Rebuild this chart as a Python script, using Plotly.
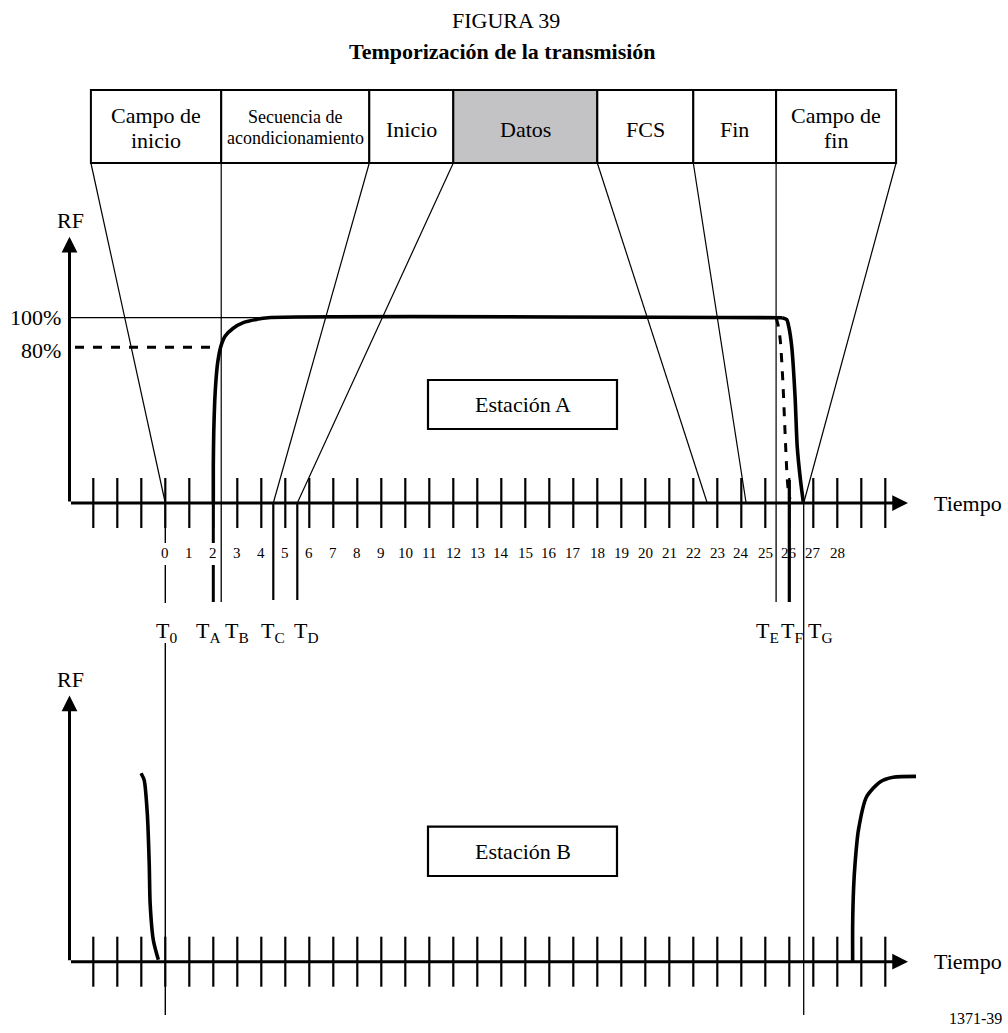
import plotly.graph_objects as go

W, H = 1008, 1033

# --- data -------------------------------------------------------------
# time in tick units, RF level as fraction of 100 %
tick_times = list(range(-3, 31))
tick_labels = list(range(0, 29))

field_names = [["Campo de", "inicio"], ["Secuencia de", "acondicionamiento"],
               ["Inicio"], ["Datos"], ["FCS"], ["Fin"], ["Campo de", "fin"]]
field_edges = [-3.1, 2.33, 8.5, 12.0, 18.0, 22.0, 25.45, 30.45]
edge_targets = [0.0, 2.33, 4.5, 5.5, 22.58, 24.2, 25.45, 26.6]

t_names = ["0", "A", "B", "C", "D", "E", "F", "G"]
t_times = [0.0, 2.0, 2.33, 4.5, 5.5, 25.45, 26.0, 26.6]

level_full = 1.0
level_80 = 0.84

a_rise_t = [2.0, 2.0, 2.02, 2.06, 2.11, 2.18, 2.31, 2.49, 2.83, 3.25, 3.81, 4.29]
a_rise_rf = [0.0, 0.2, 0.39, 0.55, 0.66, 0.755, 0.843, 0.9, 0.943, 0.973, 0.991, 1.0]
a_fall_t = [25.7, 25.89, 25.98, 26.1, 26.24, 26.33, 26.45, 26.58]
a_fall_rf = [1.0, 0.99, 0.95, 0.845, 0.574, 0.304, 0.142, 0.007]
a_fall2_t = [25.45, 25.55, 25.63, 25.73, 25.82, 25.92, 26.0, 26.05]
a_fall2_rf = [1.0, 0.95, 0.87, 0.66, 0.39, 0.12, 0.03, 0.02]

b_fall_t = [-1.01, -0.88, -0.75, -0.67, -0.63, -0.5, -0.29]
b_fall_rf = [1.017, 0.98, 0.80, 0.53, 0.31, 0.117, 0.01]
b_rise_t = [28.64, 28.64, 28.68, 28.74, 28.88, 29.22, 29.78, 30.33, 31.28]
b_rise_rf = [0.0, 0.2, 0.4, 0.53, 0.71, 0.89, 0.97, 0.995, 1.0]

# --- page geometry (pixels -> axis units) -----------------------------
X0, DX = 165.3, 24.0      # pixel of t=0, pixels per tick
Y0, DY = 503.0, 185.3     # pixel of station A baseline, pixels per 100 %
B0 = -(961.7 - Y0) / DY   # station B baseline


def px(x):
    return (x - X0) / DX


def py(y):
    return (Y0 - y) / DY


FONT = "Liberation Serif"
fig = go.Figure()


def line(xs, ys, width=1.2, dash="solid", shape="linear"):
    fig.add_trace(go.Scatter(x=xs, y=ys, mode="lines", hoverinfo="skip",
                             line=dict(color="black", width=width, dash=dash,
                                       shape=shape, smoothing=0.7)))


def text(x, y, s, size=22, **kw):
    fig.add_annotation(x=x, y=y, text=s, showarrow=False,
                       font=dict(family=FONT, size=size, color="black"), **kw)


# field boxes on top
box_top, box_bot = py(90), py(163)
for i, name in enumerate(field_names):
    fig.add_shape(type="rect", x0=field_edges[i], x1=field_edges[i + 1],
                  y0=box_bot, y1=box_top, line=dict(color="black", width=2),
                  fillcolor="#c3c3c5" if name == ["Datos"] else "white", layer="below")
    xc = (field_edges[i] + field_edges[i + 1]) / 2
    if len(name) == 1:
        text(xc, py(129), name[0])
    else:
        small = name[0].startswith("Secuencia")
        text(xc, py(117 if small else 115), name[0], size=18 if small else 22)
        text(xc, py(138 if small else 140), name[1], size=18 if small else 22)

# connectors from box corners down to the time axis
for e, tt in zip(field_edges, edge_targets):
    line([e, tt], [box_bot, 0])

# 100 % and 80 % reference levels
line([px(69.5), field_edges[6]], [level_full, level_full], width=1.3)
line([px(75), px(218)], [level_80, level_80], width=3, dash="dash")

# time markers below the axis
low_end = py(1015)
seg_style = {
    "0": ([(0, py(543)), (py(565), py(603)), (py(643), low_end)], 1.4),
    "A": ([(0, py(543)), (py(565), py(602))], 3),
    "B": ([(0, py(602))], 1.3),
    "C": ([(0, py(600))], 2.2),
    "D": ([(0, py(600))], 2.2),
    "E": ([(0, py(602))], 1.3),
    "F": ([(py(480), py(602))], 3.2),
    "G": ([(0, low_end)], 1.3),
}
for n, tt in zip(t_names, t_times):
    segs, w = seg_style[n]
    for y_a, y_b in segs:
        line([tt, tt], [y_a, y_b], width=w)

t_label_x = [166, 208, 237, 273, 306, 767, 792, 820]
for n, lx in zip(t_names, t_label_x):
    text(px(lx), py(632), "T<sub>%s</sub>" % n)

# tick marks on both axes
for base in (0, B0):
    xs, ys = [], []
    for tt in tick_times:
        xs += [tt, tt, None]
        ys += [base - 0.135, base + 0.135, None]
    line(xs, ys, width=2.2)

for v in tick_labels:
    text(v, py(553), str(v), size=15)

# RF curves
line(a_rise_t + [a_fall_t[0]], a_rise_rf + [level_full], width=3.6, shape="spline")
line(a_fall_t, a_fall_rf, width=3.6, shape="spline")
line(a_fall2_t, a_fall2_rf, width=3, dash="dash", shape="spline")
line(b_fall_t, [B0 + r for r in b_fall_rf], width=3.6, shape="spline")
line(b_rise_t, [B0 + r for r in b_rise_rf], width=3.6, shape="spline")

# axes with arrow heads
for base, rf_y in ((0, py(220)), (B0, py(679))):
    for hx, hy in ((px(908), base), (px(69.5), base + 1.437)):
        fig.add_annotation(x=hx, y=hy, ax=px(69.5), ay=base, xref="x", yref="y",
                           axref="x", ayref="y", text="", showarrow=True,
                           arrowhead=2, arrowsize=1.05, arrowwidth=3,
                           arrowcolor="black", standoff=0)
    text(px(70), rf_y, "RF")
    text(px(932), base, "Tiempo", xanchor="left")

text(px(63), level_full, "100%", xanchor="right")
text(px(63), py(350), "80%", xanchor="right")

# station boxes
for name, top, bot in (("Estación A", py(380), py(429)), ("Estación B", py(826.7), py(876))):
    fig.add_shape(type="rect", x0=px(428), x1=px(617), y0=bot, y1=top,
                  line=dict(color="black", width=2.2))
    text(px(522.5), (top + bot) / 2, name)

# titles and reference number
text(px(506), py(20), "FIGURA 39", size=22)
text(px(502), py(51), "<b>Temporización de la transmisión</b>", size=22)
text(px(1004), py(1018), "1371-39", size=16, xanchor="right")

fig.update_layout(
    width=W, height=H, margin=dict(l=0, r=0, t=0, b=0),
    paper_bgcolor="white", plot_bgcolor="white",
    showlegend=False, hovermode=False,
    xaxis=dict(range=[px(0), px(W)], visible=False, fixedrange=True),
    yaxis=dict(range=[py(H), py(0)], visible=False, fixedrange=True),
)

fig.write_html("out.html", config={"displayModeBar": False},
               post_script="document.body.style.margin='0';")
